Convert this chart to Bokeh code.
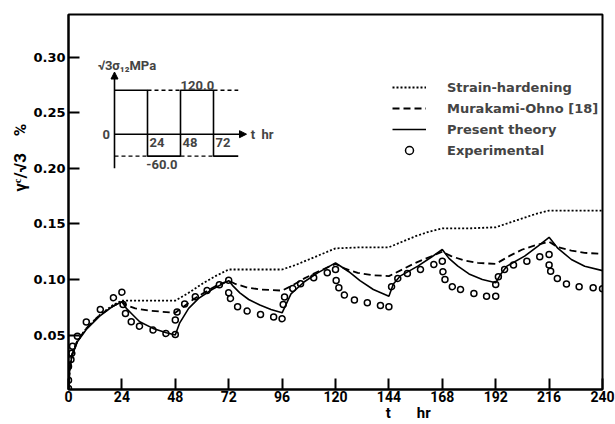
import math
from bokeh.plotting import figure
from bokeh.models import (Range1d, FixedTicker, Label, Legend, LegendItem, Arrow,
                          NormalHead, NumeralTickFormatter)
from bokeh.embed import file_html
from bokeh.resources import INLINE

# ---------------- data ----------------
x_ticks = [0, 24, 48, 72, 96, 120, 144, 168, 192, 216, 240]
y_ticks = [0.05, 0.10, 0.15, 0.20, 0.25, 0.30]

sh_t = [0, 0.5, 1.5, 4, 8, 14, 20, 24, 36, 48, 54, 60, 66, 72, 84, 96, 102, 108, 114, 120,
        132, 144, 150, 156, 162, 168, 180, 192, 198, 204, 210, 216, 228, 240]
sh_v = [0, 0.019, 0.032, 0.045, 0.056, 0.068, 0.077, 0.081, 0.081, 0.081, 0.088, 0.096, 0.103,
        0.109, 0.109, 0.109, 0.113, 0.118, 0.123, 0.128, 0.129, 0.129, 0.134, 0.139, 0.143,
        0.146, 0.146, 0.147, 0.151, 0.155, 0.159, 0.162, 0.162, 0.162]

mo_t = [0, 0.5, 1.5, 4, 8, 14, 20, 24, 26, 30, 36, 42, 48, 52, 56, 60, 66, 72, 75, 80, 86, 96,
        100, 106, 112, 120, 124, 130, 136, 144, 150, 156, 162, 168, 172, 178, 184, 192,
        198, 204, 210, 216, 220, 226, 232, 240]
mo_v = [0, 0.019, 0.032, 0.045, 0.056, 0.068, 0.076, 0.080, 0.077, 0.074, 0.072, 0.071, 0.070,
        0.076, 0.082, 0.087, 0.094, 0.099, 0.096, 0.093, 0.091, 0.090,
        0.094, 0.101, 0.107, 0.114, 0.110, 0.106, 0.104, 0.103, 0.109, 0.115, 0.120, 0.125,
        0.121, 0.117, 0.115, 0.114, 0.121, 0.127, 0.131, 0.134, 0.129, 0.126, 0.124, 0.123]

pt_t = [0, 0.5, 1.5, 4, 8, 14, 20, 24, 26, 28.5, 32, 38, 44, 48, 50, 54, 58.5, 64.5, 72,
        74, 77, 81, 86, 91, 96, 100, 106, 112, 120, 123, 126, 131, 137, 144,
        146, 149, 157, 163, 168, 171, 175, 180, 186, 192, 194, 197, 205, 211, 216,
        220, 226, 232, 240]
pt_v = [0, 0.018, 0.031, 0.044, 0.055, 0.067, 0.076, 0.080, 0.074, 0.069, 0.062, 0.056, 0.052,
        0.050, 0.061, 0.074, 0.083, 0.091, 0.099,
        0.094, 0.088, 0.082, 0.077, 0.073, 0.070, 0.087, 0.098, 0.106, 0.115, 0.111, 0.107,
        0.099, 0.091, 0.085, 0.096, 0.103, 0.112, 0.120, 0.127, 0.119, 0.112, 0.105, 0.100,
        0.097, 0.104, 0.112, 0.121, 0.130, 0.138, 0.128, 0.118, 0.112, 0.108]

ex_t = [0, 0, 0, 1.1, 1.5, 1.8, 4, 8, 14.3, 20.2, 24, 24.5, 25.6, 28.2, 31.9, 38, 43.8,
        48, 48, 48.8, 52.2, 57, 62.3, 67.8, 72, 72, 72.8, 76, 80.3, 86.3, 92.2,
        96, 96.5, 97.1, 100.8, 104.3, 110.2, 116.3, 120, 120.3, 121.5, 124, 128.5, 134.3, 140.2,
        144, 145.2, 148, 152.3, 158.2, 164.2, 168, 168.3, 169.2, 172.5, 176.2, 182.2, 187.9,
        192, 192, 193.2, 196, 200, 206, 211.8, 216, 216, 216.7, 219.7, 223.8, 229.5, 235.8, 240]
ex_v = [0.002, 0.0093, 0.0216, 0.028, 0.0336, 0.040, 0.049, 0.0617, 0.073, 0.0836, 0.0886,
        0.0776, 0.0695, 0.062, 0.058, 0.0545, 0.0515,
        0.0506, 0.0635, 0.0707, 0.078, 0.0845, 0.090, 0.0953, 0.0994, 0.088, 0.083, 0.0755,
        0.0716, 0.0686, 0.0662,
        0.0647, 0.0776, 0.0842, 0.092, 0.0962, 0.1016, 0.106, 0.109, 0.099, 0.0926, 0.086,
        0.0815, 0.079, 0.0767,
        0.0755, 0.0935, 0.101, 0.1054, 0.109, 0.1135, 0.1165, 0.107, 0.100, 0.0935, 0.091,
        0.0875, 0.085,
        0.085, 0.0955, 0.1025, 0.109, 0.113, 0.1165, 0.1205, 0.1225, 0.113, 0.1075, 0.101,
        0.096, 0.0935, 0.0926, 0.0917]

# inset (loading history)
ins_switch = [0, 24, 48, 72]
ins_levels = [120.0, -60.0, 120.0, -60.0]
ins_end = 90
ins_ticks = [24, 48, 72]

FONT = "Roboto"
DJ = "DejaVu Sans"
NB = "\u00a0"

p = figure(width=615, height=424, output_backend="svg", toolbar_location=None,
           x_range=Range1d(0, 240), y_range=Range1d(0.001, 0.3385),
           min_border_left=68, min_border_right=13, min_border_top=14, min_border_bottom=34)
p.grid.visible = False
p.outline_line_color = "black"
p.outline_line_width = 2
p.background_fill_color = "white"
p.border_fill_color = "white"

for ax in (p.xaxis[0], p.yaxis[0]):
    ax.axis_line_width = 2
    ax.major_tick_line_width = 2
    ax.major_tick_in = 11
    ax.major_tick_out = 0
    ax.minor_tick_line_color = None
    ax.major_label_text_font_style = "bold"
    ax.major_label_text_color = "black"
    ax.axis_label_text_font_style = "bold"
    ax.axis_label_text_color = "black"

xa, ya = p.xaxis[0], p.yaxis[0]
xa.ticker = FixedTicker(ticks=x_ticks)
xa.major_label_text_font = FONT
xa.major_label_text_font_size = "14px"
xa.major_label_standoff = 1
xa.axis_label = NB * 39 + "t" + NB * 7 + "hr"
xa.axis_label_text_font = FONT
xa.axis_label_text_font_size = "15px"
xa.axis_label_standoff = -1

ya.ticker = FixedTicker(ticks=y_ticks)
ya.formatter = NumeralTickFormatter(format="0.00")
ya.major_label_text_font = DJ
ya.major_label_text_font_size = "13px"
ya.major_label_standoff = 3
ya.axis_label = NB * 21 + "γᶜ/√3" + NB * 4 + "%"
ya.axis_label_text_font = FONT
ya.axis_label_text_font_size = "17px"
ya.axis_label_standoff = 0

r_sh = p.line(sh_t, sh_v, line_color="black", line_width=1.8, line_dash="2 2")
r_mo = p.line(mo_t, mo_v, line_color="black", line_width=1.8, line_dash="7 4")
r_pt = p.line(pt_t, pt_v, line_color="black", line_width=1.6)
r_ex = p.scatter(ex_t, ex_v, marker="circle", size=6, fill_alpha=0,
                 line_color="black", line_width=1.5)

legend = Legend(items=[LegendItem(label="Strain-hardening", renderers=[r_sh]),
                       LegendItem(label="Murakami-Ohno [18]", renderers=[r_mo]),
                       LegendItem(label="Present theory", renderers=[r_pt]),
                       LegendItem(label="Experimental", renderers=[r_ex])],
                location=(324, 229), padding=0, margin=0, spacing=1,
                glyph_width=34, glyph_height=20, label_height=20, label_standoff=21,
                label_text_font=DJ, label_text_font_size="13px",
                label_text_font_style="bold", border_line_alpha=0,
                background_fill_alpha=0)
p.add_layout(legend, "center")

# ---------------- inset via extra ranges ----------------
p.extra_x_ranges = {"it": Range1d((68 - 114) / 1.375, (602 - 114) / 1.375)}
p.extra_y_ranges = {"is": Range1d((134 - 390) / 0.36667, (134 - 14) / 0.36667)}

bounds = ins_switch + [ins_end]
sx, sy = [], []
for i, lev in enumerate(ins_levels):
    sx += [bounds[i], bounds[i + 1]]
    sy += [lev, lev]
p.line(sx, sy, line_color="black", line_width=1.6, x_range_name="it", y_range_name="is")

hi, lo = max(ins_levels), min(ins_levels)
dx, dy = [], []
for i, lev in enumerate(ins_levels):
    other = lo if lev == hi else hi
    dx.append([bounds[i], bounds[i + 1]])
    dy.append([other, other])
p.multi_line(dx, dy, line_color="black", line_width=1.4, line_dash="4 3",
             x_range_name="it", y_range_name="is")

p.add_layout(Arrow(end=NormalHead(size=7, fill_color="black", line_color="black"),
                   x_start=0, y_start=-93, x_end=0, y_end=170, line_width=1.6,
                   x_range_name="it", y_range_name="is"))
p.add_layout(Arrow(end=NormalHead(size=7, fill_color="black", line_color="black"),
                   x_start=0, y_start=0, x_end=96, y_end=0, line_width=1.4,
                   x_range_name="it", y_range_name="is"))

def ins_label(x, y, text, align="left", size="13px"):
    p.add_layout(Label(x=x, y=y, text=text, text_align=align, text_baseline="middle",
                       text_font=FONT, text_font_size=size, text_font_style="bold",
                       x_range_name="it", y_range_name="is"))

ins_label(9, 188, "√3σ₁₂MPa", align="center")
ins_label(ins_switch[2], 133, f"{hi:.1f}")
ins_label(-6, 0, "0", align="center")
for t in ins_ticks:
    ins_label(t + 1.5, -22, str(t))
ins_label(99, 0, "t" + NB * 2 + "hr")
ins_label(34.5, -82, f"{lo:.1f}", align="center")

open("out.html", "w").write(file_html(p, INLINE))
